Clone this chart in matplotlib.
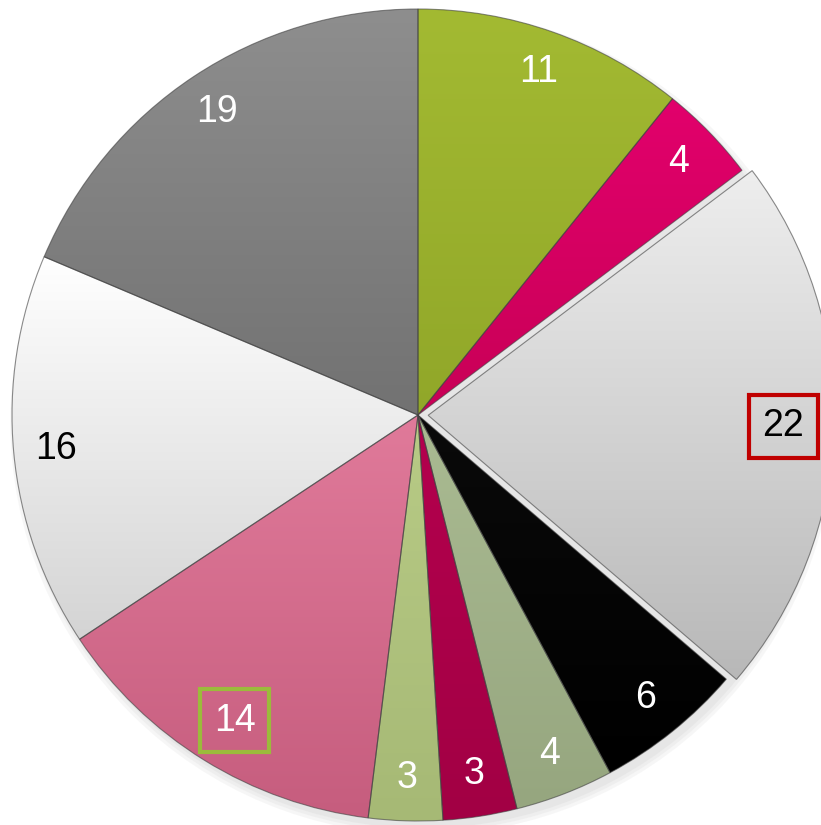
import numpy as np
import matplotlib.pyplot as plt
from matplotlib.colors import to_rgb
from matplotlib.patches import Circle

plt.rcParams['font.family'] = ['Liberation Sans', 'DejaVu Sans']

values = [11, 4, 22, 6, 4, 3, 3, 14, 16, 19]
top_colors = ['#a3ba32', '#e2006c', '#eeeeee', '#0a0a0a', '#aabb92',
              '#b4004e', '#b8cb86', '#e07a9a', '#ffffff', '#8e8e8e']
bottom_colors = ['#91a729', '#c80056', '#b8b8b8', '#000000', '#96a67f',
                 '#a20044', '#a6b975', '#c65d7e', '#d4d4d4', '#727272']
text_colors = ['white', 'white', 'black', 'white', 'white',
               'white', 'white', 'white', 'black', 'white']
explode = [0, 0, 0.025, 0, 0, 0, 0, 0, 0, 0]
total = sum(values)

fig = plt.figure(figsize=(8.21, 8.25), dpi=100)
ax = fig.add_axes([0, 0, 1, 1])

# soft shadow under the pie
for i, a in enumerate([0.05, 0.05, 0.05]):
    ax.add_patch(Circle((0.012, -0.018), 1.0 + 0.008 * i, color='#606060',
                        alpha=a, lw=0, zorder=0))

wedges, texts, autotexts = ax.pie(
    values, colors=top_colors, startangle=90, counterclock=False,
    explode=explode, radius=1.0,
    autopct=lambda p: f"{p * total / 100:.0f}", pctdistance=0.895,
    wedgeprops=dict(edgecolor=(0.25, 0.25, 0.25, 0.6), linewidth=0.8),
    textprops=dict(fontsize=27))

# vertical gradient inside each wedge
for w, c1, c2 in zip(wedges, top_colors, bottom_colors):
    ext = w.get_path().get_extents()
    t = np.linspace(0, 1, 200)[:, None, None]
    grad = np.array(to_rgb(c2))[None, None, :] * (1 - t) + np.array(to_rgb(c1))[None, None, :] * t
    grad = np.repeat(grad, 2, axis=1)
    im = ax.imshow(grad, origin='lower', aspect='auto', interpolation='bilinear',
                   extent=[ext.x0, ext.x1, ext.y0, ext.y1], zorder=1)
    im.set_clip_path(w)
    w.set_facecolor('none')
    w.set_zorder(2)

for t, c in zip(autotexts, text_colors):
    t.set_color(c)
    t.set_zorder(3)

# the boxed "22" sits a little closer to the centre
x22, y22 = autotexts[2].get_position()
autotexts[2].set_position((x22 * 0.978, y22 * 0.978))
autotexts[2].set_bbox(dict(boxstyle='square,pad=0.36', facecolor='none',
                           edgecolor='#c00000', linewidth=3))
x14, y14 = autotexts[7].get_position()
autotexts[7].set_position((x14 * 0.99 + 0.015, y14 * 0.99))
autotexts[7].set_bbox(dict(boxstyle='square,pad=0.36', facecolor='none',
                           edgecolor='#9bbb3b', linewidth=3))

ax.set_xlim(-418 / 406, (821 - 418) / 406)
ax.set_ylim(-(825 - 415) / 406, 415 / 406)
ax.set_aspect('equal')
ax.axis('off')

plt.savefig("out.png", dpi=100)
